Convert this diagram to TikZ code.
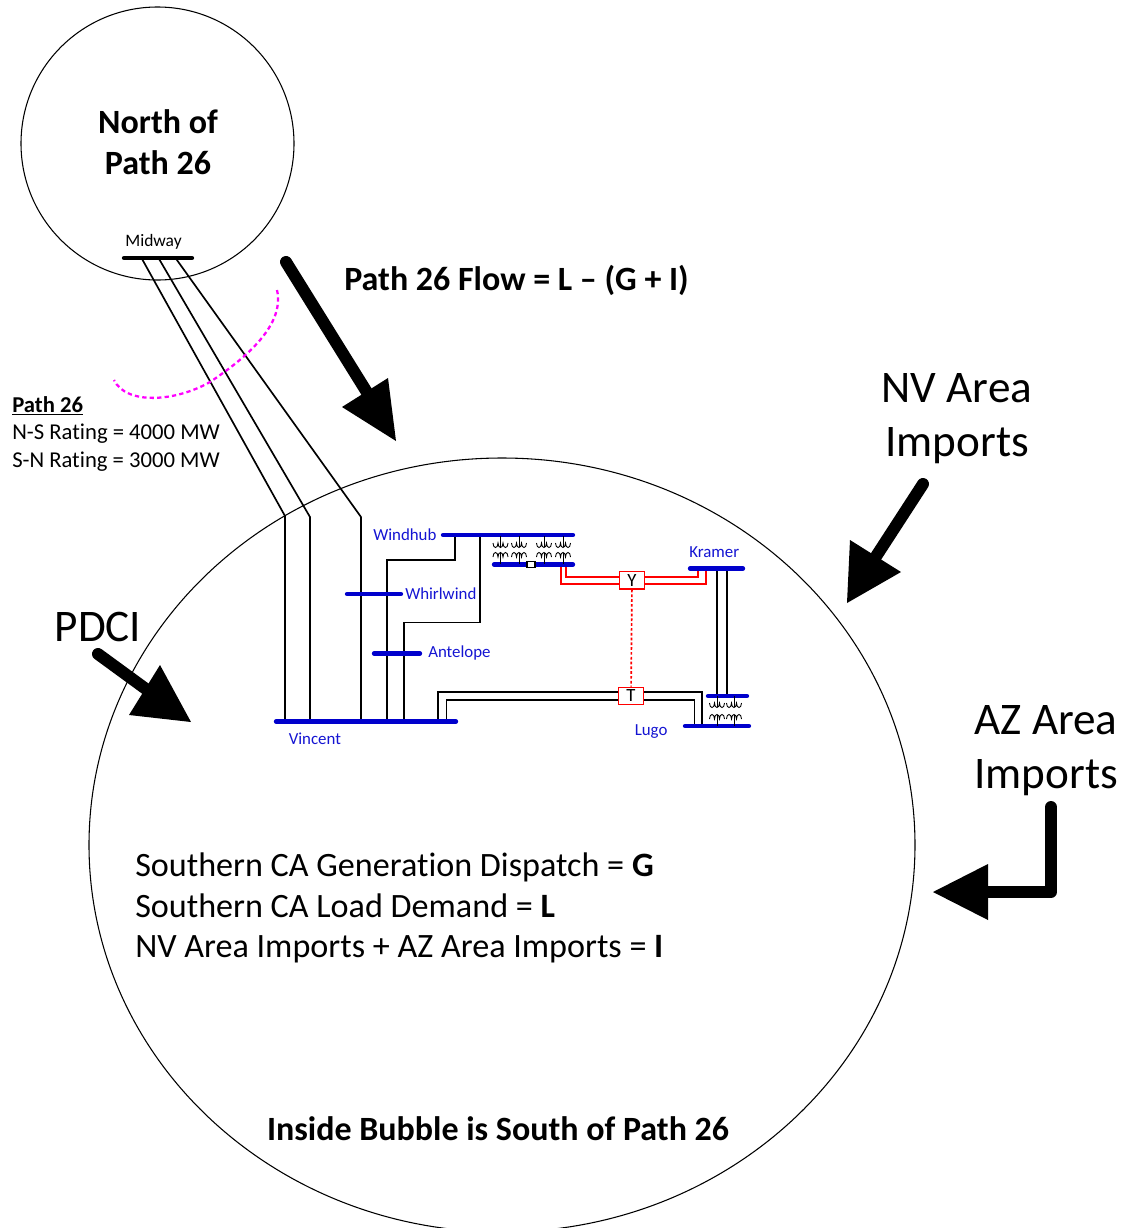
\documentclass[tikz,border=0pt]{standalone}
\usepackage{fontspec}
\setmainfont{Carlito}[Ligatures=NoCommon]
\usetikzlibrary{calc,shapes.geometric}
\definecolor{busblue}{RGB}{0,0,204}
\definecolor{labelblue}{RGB}{20,20,210}
\definecolor{pathpink}{RGB}{255,0,255}
\newcommand{\fsz}[1]{\fontsize{#1}{#1}\selectfont}
% x, top bus y, bottom bus y
\newcommand{\xfmr}[3]{%
  \draw[xline] (#1,#2) -- (#1,#2+11);
  \draw[xline] (#1-7.5,#2+7) .. controls (#1-7.5,#2+13) and (#1-2.5,#2+13) .. (#1-2.5,#2+7) .. controls (#1-2.5,#2+13) and (#1+2.5,#2+13) .. (#1+2.5,#2+7) .. controls (#1+2.5,#2+13) and (#1+7.5,#2+13) .. (#1+7.5,#2+7);
  \draw[xline] (#1-7.5,#3-7) .. controls (#1-7.5,#3-13) and (#1-2.5,#3-13) .. (#1-2.5,#3-7) .. controls (#1-2.5,#3-13) and (#1+2.5,#3-13) .. (#1+2.5,#3-7) .. controls (#1+2.5,#3-13) and (#1+7.5,#3-13) .. (#1+7.5,#3-7);
  \draw[xline] (#1,#3-11) -- (#1,#3);
}
\tikzset{
  bubble/.style={draw=black,line width=0.8pt},
  wire/.style={draw=black,line width=1.25pt},
  redwire/.style={draw=red,line width=1.25pt},
  xline/.style={draw=black,line width=0.65pt},
  bus/.style={draw=busblue,line width=3.2pt,line cap=round},
  blackbus/.style={draw=black,line width=3.2pt,line cap=round},
  shaft/.style={draw=black,line width=9pt,line cap=round,line join=round},
  head/.style={fill=black,draw=none},
  buslabel/.style={text=labelblue,inner sep=0pt,anchor=base west,font=\fsz{12.65}},
  blacklabel/.style={text=black,inner sep=0pt,anchor=base,font=\fsz{13.1}},
  bigtext/.style={text=black,inner sep=0pt,anchor=base,font=\fsz{33.9}},
  midtext/.style={text=black,inner sep=0pt,anchor=base west,font=\fsz{25.6}},
  boldtext/.style={text=black,inner sep=0pt,anchor=base,font=\fsz{25.5}\bfseries},
  smalltext/.style={text=black,inner sep=0pt,anchor=base west,font=\fsz{17}},
  devbox/.style={draw=red,fill=white,line width=1pt,minimum width=18.5pt,minimum height=13pt,inner sep=0pt,text=black,font=\fsz{14}},
}
\begin{document}
\begin{tikzpicture}[x=0.75pt,y=-0.75pt]
\useasboundingbox (0,0) rectangle (1136,1228);
\clip (0,0) rectangle (1136,1228);
% bubbles
\node[bubble,circle,minimum size=204.75pt,inner sep=0pt] (north) at (157.5,143.5) {};
\node[bubble,ellipse,minimum width=619.5pt,minimum height=580.5pt,inner sep=0pt] (south) at (502,845) {};
% Midway and Path 26 lines
\coordinate (midL) at (124,258); \coordinate (midR) at (192,258);
\draw[blackbus] (midL) -- (midR);
\node[blacklabel] (midway) at (153.5,246) {Midway};
\coordinate (m1) at (141.5,258); \coordinate (m2) at (158.5,258); \coordinate (m3) at (175.5,258);
\coordinate (b1) at (285,516); \coordinate (b2) at (310,517); \coordinate (b3) at (361,517);
\coordinate (v1) at (285,721); \coordinate (v2) at (310,721); \coordinate (v3) at (361,721);
\draw[wire] (m1) -- (b1) -- (v1);
\draw[wire] (m2) -- (b2) -- (v2);
\draw[wire] (m3) -- (b3) -- (v3);
% Path 26 cut
\coordinate (cutA) at (277,290); \coordinate (cutB) at (114,380);
\draw[draw=pathpink,line width=1.7pt,dash pattern=on 3.2pt off 2.4pt] (cutA) .. controls (285,325) and (246,358) .. (210,382) .. controls (175,402) and (126,405) .. (cutB);
% Windhub lines
\coordinate (w1) at (455,535); \coordinate (w2) at (480,535);
\coordinate (v4) at (387,721); \coordinate (v5) at (404,721);
\draw[wire] (w1) -- (455,560) -- (387,560) -- (v4);
\draw[wire] (w2) -- (480,622.5) -- (404,622.5) -- (v5);
% Vincent-Lugo
\coordinate (v6) at (438,721); \coordinate (v7) at (446.5,721);
\coordinate (l1) at (702,725); \coordinate (l2) at (694.5,725);
\draw[wire] (v6) -- (438,692) -- (702,692) -- (l1);
\draw[wire] (v7) -- (446.5,700) -- (694.5,700) -- (l2);
% Kramer-Lugo lines
\coordinate (k1) at (717,569); \coordinate (k2) at (727,569);
\coordinate (lt1) at (717,696); \coordinate (lt2) at (727,696);
\draw[wire] (k1) -- (lt1);
\draw[wire] (k2) -- (lt2);
% red lines
\coordinate (r1) at (561,565); \coordinate (r2) at (566,565);
\coordinate (r3) at (706,569); \coordinate (r4) at (698,569);
\draw[redwire] (r1) -- (561,584) -- (706,584) -- (r3);
\draw[redwire] (r2) -- (566,577) -- (698,577) -- (r4);
% buses
\draw[bus] (443,535) -- (573,535);
\draw[bus] (494,564.5) -- (573,564.5);
\draw[bus] (347,594) -- (401,594);
\draw[bus] (374,653.5) -- (420,653.5);
\draw[bus] (276,721.5) -- (456,721.5);
\draw[bus] (690,568.5) -- (743,568.5);
\draw[bus] (708,696) -- (747,696);
\draw[bus] (685,726) -- (749,726);
% transformers
\xfmr{500.5}{536}{564}
\xfmr{519}{536}{564}
\xfmr{544}{536}{564}
\xfmr{563}{536}{564}
\xfmr{717}{696}{726}
\xfmr{734}{696}{726}
% small box on lower Windhub bus
\node[draw=black,fill=white,line width=0.8pt,minimum width=6pt,minimum height=4.5pt,inner sep=0pt] (tie) at (531,564.5) {};
% devices
\node[devbox] (Y) at (632,580.3) {Y};
\node[devbox] (T) at (631,696) {T};
\draw[draw=red,line width=1.25pt,dash pattern=on 2pt off 1.6pt] (Y) -- (T);
% bus labels
\node[buslabel] (windhub) at (373,540) {Windhub};
\node[buslabel] (whirl) at (405,599) {Whirlwind};
\node[buslabel] (ante) at (428,657) {Antelope};
\node[buslabel] (vinc) at (288.5,744) {Vincent};
\node[buslabel] (kram) at (689,557) {Kramer};
\node[buslabel] (lugo) at (634.5,735) {Lugo};
% texts
\node[boldtext] (northtxt) at (158,133.7) {North of};
\node[boldtext] (pathtxt) at (158,174.7) {Path 26};
\node[boldtext,anchor=base west] (flow) at (344,290.7) {Path 26 Flow = L – (G + I)};
\node[boldtext] (inside) at (498,1140.7) {Inside Bubble is South of Path 26};
\node[smalltext,font=\fsz{17}\bfseries] (p26) at (12,412) {\underline{Path 26}};
\node[smalltext] (ns) at (12,439.5) {N-S Rating = 4000 MW};
\node[smalltext] (sn) at (12,467.5) {S-N Rating = 3000 MW};
\node[bigtext] (nv1) at (957,402) {NV Area};
\node[bigtext] (nv2) at (957,456) {Imports};
\node[bigtext] (az1) at (1046,734) {AZ Area};
\node[bigtext] (az2) at (1046,788) {Imports};
\node[bigtext] (pdci) at (98,641) {PDCI};
\node[midtext] (g) at (135,876.5) {Southern CA Generation Dispatch = \textbf{G}};
\node[midtext] (l) at (135,917.7) {Southern CA Load Demand = \textbf{L}};
\node[midtext] (i) at (135,957.5) {NV Area Imports + AZ Area Imports = \textbf{I}};
% fat arrows
\coordinate (a1s) at (286,262); \coordinate (a1e) at (368,394);
\draw[shaft] (a1s) -- (a1e);
\fill[head] (342,407) -- (388,378) -- (396,441) -- cycle;
\coordinate (a2s) at (923,484); \coordinate (a2e) at (875,558);
\draw[shaft] (a2s) -- (a2e);
\fill[head] (850,540) -- (901,572) -- (847,603) -- cycle;
\coordinate (a3s) at (98,654); \coordinate (a3e) at (150,692);
\draw[shaft] (a3s) -- (a3e);
\fill[head] (160,665) -- (129,715) -- (191,722) -- cycle;
\coordinate (a4s) at (1051,807); \coordinate (a4m) at (1051,892); \coordinate (a4e) at (985,892);
\draw[shaft] (a4s) -- (a4m) -- (a4e);
\fill[head] (988,864) -- (988,920) -- (933,892) -- cycle;
\end{tikzpicture}
\end{document}
